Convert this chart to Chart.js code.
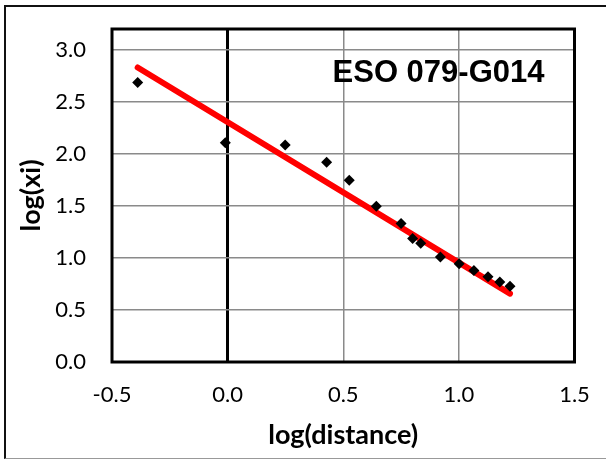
<!DOCTYPE html>
<html>
<head>
<meta charset="utf-8">
<script src="https://cdn.jsdelivr.net/npm/chart.js@4/dist/chart.umd.min.js"></script>
<style>
  html, body { margin: 0; padding: 0; background: #fff; overflow: hidden; }
  #wrap { position: relative; width: 606px; height: 459px; }
  #frame {
    position: absolute; left: 4px; top: 5px; width: 640px; height: 451px;
    border-top: 2px solid #111; border-left: 2px solid #111; border-bottom: 1px solid #999;
    pointer-events: none;
  }
  canvas { position: absolute; left: 0; top: 0; }
</style>
</head>
<body>
<div id="wrap">
  <canvas id="chart" width="606" height="459"></canvas>
  <div id="frame"></div>
</div>
<script>
// measured points (log distance, log xi)
const logDistance = [-0.389, -0.010, 0.249, 0.428, 0.526, 0.643, 0.750, 0.800, 0.835, 0.920, 1.001, 1.065, 1.126, 1.177, 1.221];
const logXi       = [ 2.687,  2.106, 2.086, 1.919, 1.747, 1.497, 1.331, 1.187, 1.142, 1.008, 0.944, 0.880, 0.820, 0.768, 0.729];

// linear trend line, ends
const trendX = [-0.389, 1.221];
const trendY = [ 2.830, 0.657];

// tick labels
const xTicks = [-0.5, 0.0, 0.5, 1.0, 1.5];
const yTicks = [0.0, 0.5, 1.0, 1.5, 2.0, 2.5, 3.0];

const galaxyName = 'ESO 079-G014';
const xTitle = 'log(distance)';
const yTitle = 'log(xi)';

const gridGray = '#8a8a8a';

function toXY(xs, ys) {
    return xs.map((x, i) => ({ x: x, y: ys[i] }));
}

// black box round the plot area + the galaxy label inside it
const plotFrame = {
    id: 'plotFrame',
    beforeDatasetsDraw(chart) {
        const a = chart.chartArea;
        const ctx = chart.ctx;
        ctx.save();
        ctx.strokeStyle = '#000';
        ctx.lineWidth = 3;
        ctx.strokeRect(a.left, a.top, a.right - a.left, a.bottom - a.top);
        ctx.restore();
    },
    afterDraw(chart) {
        const a = chart.chartArea;
        const ctx = chart.ctx;
        ctx.save();
        ctx.font = 'bold 31px "Liberation Sans", Arial, sans-serif';
        ctx.fillStyle = '#000';
        ctx.textAlign = 'right';
        ctx.textBaseline = 'alphabetic';
        ctx.fillText(galaxyName, a.right - 30, a.top + 53);
        ctx.restore();
    }
};

const ctx = document.getElementById('chart').getContext('2d');
const chart = new Chart(ctx, {
    type: 'scatter',
    data: {
        datasets: [
        {
            label: 'data',
            data: toXY(logDistance, logXi),
            pointStyle: 'rectRot',
            pointRadius: 5.5,
            backgroundColor: '#000',
            borderColor: '#000',
            borderWidth: 0,
            order: 0
        },
        {
            label: 'trend',
            type: 'line',
            data: toXY(trendX, trendY),
            borderColor: '#ff0000',
            borderWidth: 6,
            borderCapStyle: 'round',
            pointRadius: 0,
            fill: false,
            order: 1
        }
    ]
    },
    options: {
        responsive: false,
        animation: false,
        layout: { padding: { top: 29, right: 31.5, left: 0, bottom: 0 } },
        plugins: {
            legend: { display: false },
            tooltip: { enabled: false }
        },
        scales: {
            x: {
                type: 'linear',
                min: -0.5, max: 1.5,
                afterFit: s => { s.height = 97; s.paddingLeft = 0; s.paddingRight = 0; },
                afterBuildTicks: s => { s.ticks = xTicks.map(v => ({ value: v })); },
                ticks: {
                    padding: 20,
                    color: '#000',
                    font: { family: 'Lato', size: 22 },
                    callback: v => v.toFixed(1)
                },
                grid: {
                    drawTicks: false,
                    color: c => (c.tick && c.tick.value === 0) ? '#000' : gridGray,
                    lineWidth: c => (c.tick && c.tick.value === 0) ? 3 : 1.5
                },
                border: { display: false },
                title: {
                    display: true,
                    text: xTitle,
                    color: '#000',
                    font: { family: 'Lato', size: 27, weight: 'bold' },
                    padding: { top: 0, bottom: 8 }
                }
            },
            y: {
                min: 0, max: 3.2,
                afterFit: s => { s.width = 112; s.paddingTop = 0; s.paddingBottom = 0; },
                afterBuildTicks: s => { s.ticks = yTicks.map(v => ({ value: v })); },
                ticks: {
                    padding: 26,
                    color: '#000',
                    font: { family: 'Lato', size: 22 },
                    callback: v => v.toFixed(1)
                },
                grid: {
                    drawTicks: false,
                    color: gridGray,
                    lineWidth: 1.5
                },
                border: { display: false },
                title: {
                    display: true,
                    text: yTitle,
                    color: '#000',
                    font: { family: 'Lato', size: 27, weight: 'bold' },
                    padding: { top: 15, bottom: 0 }
                }
            }
        }
    },
    plugins: [plotFrame]
});
</script>
</body>
</html>
